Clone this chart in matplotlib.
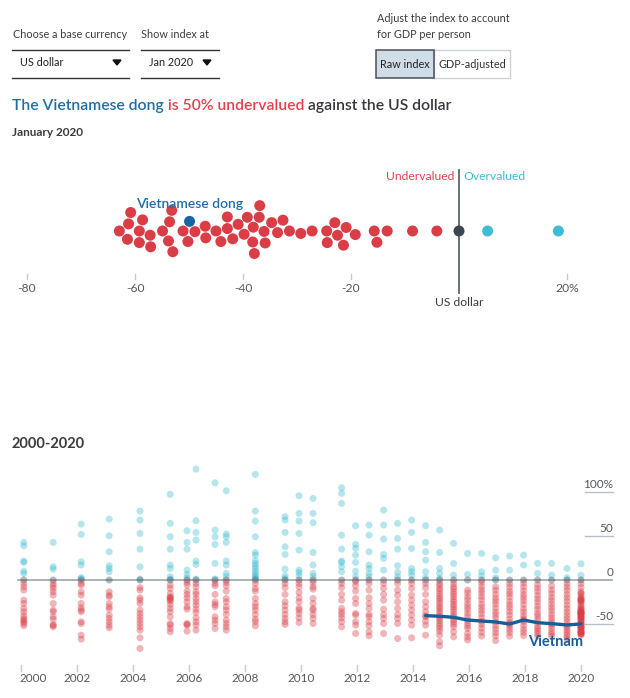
import numpy as np
import matplotlib
matplotlib.use("Agg")
import matplotlib.pyplot as plt
from matplotlib.patches import Rectangle, Polygon

plt.rcParams['font.family'] = ['Lato', 'DejaVu Sans']

# ---- data: Jan 2020 snapshot (% vs US dollar) ----
jan2020 = [-62.9, -60.8, -61.2, -61.4, -59.2, -59.2, -58.6, -57.1, -57.2, -54.9,
           -53.8, -53.2, -53.0, -53.6, -51.1, -48.9, -50.2, -47.0, -46.9, -45.0,
           -44.1, -42.9, -42.9, -41.9, -40.9, -39.8, -39.2, -37.9, -36.9, -38.1,
           -35.9, -37.0, -38.2, -36.1, -34.7, -33.6, -32.6, -31.4, -29.3, -27.2,
           -24.4, -24.5, -22.5, -21.4, -20.9, -23.0, -19.2, -15.7, -15.2, -13.3,
           -8.6, -4.1, 5.3, 18.4]
vietnam_2020 = -49.9
top_ticks = [-80, -60, -40, -20, 20]
top_tick_labels = ['-80', '-60', '-40', '-20', '20%']

# ---- data: 2000-2020 history, one list per survey ----
c2000 = [42.7, 38.9, 21.5, 20, 10.1, 7.5, 0, -3.9, -7.7, -11.5, -22.9, -26.7, -32.3, -36.1,
         -40.6, -43.7, -45.6, -47.5, -49.4, -52]
c2001 = [42.7, 15, 12.4, 0, -3.9, -6.6, -9.6, -13.4, -17.2, -26.7, -34.2, -36.1, -41.8, -44.5,
         -51.3, -51, -53.2]
c2002 = [63.5, 51.8, 20.7, 17, 2.5, 1.8, 0, -3.9, -5.8, -13.4, -17.2, -26.7, -31.6, -34.2,
         -36.1, -47.5, -49.4, -62.7, -67.2]
c2003 = [69.2, 50.3, 32.1, 16.2, 13.1, 9.4, 0, -13.4, -17.2, -19.1, -26.7, -30.4, -33.1,
         -39.9, -43.7, -47.5, -51.3, -54.3]
c2004 = [78.3, 68.1, 52.9, 35.1, 15, 1, 0, -8.7, -11.5, -20.2, -22.9, -26.7, -34.2, -38,
         -41.8, -45.6, -49.4, -53.2, -57, -65.7, -77.8]
c2005 = [97.3, 64.3, 49.1, 35.1, 17, 13.1, 3.8, 1.1, 0, -5.8, -9.6, -15.3, -19.1, -20, -21,
         -22.5, -24, -27.8, -32.3, -36.1, -41.8, -49.4, -51.3, -55.1, -58.9]
c2006a = [56, 42.7, 35.1, 11.2, 6.3, 2.5, 0, -2.8, -5.8, -12.6, -16.4, -20.2, -24.8, -30.4,
          -33.1, -49.4, -50.5, -51.3, -58.1]
c2006b = [126, 67.3, 54.1, 45.4, 21.5, 17.7, 1.1, 0, -3.9, -7.7, -13.4, -16.4, -21, -24.8,
          -28.6, -33.1, -36.9, -43, -47.5, -51.3, -57]
c2007a = [110.5, 56.7, 49.1, 40.4, 18.8, 1.1, 0, -3.9, -6.6, -16.4, -24.8, -27.8, -30.4,
          -41.8, -45.6, -49.4, -55.1]
c2007b = [101.4, 52.2, 49.1, 42.7, 21.5, 17, 7.5, 3.8, 0, -2.8, -6.6, -12.6, -21, -24.8,
          -30.4, -34.2, -39.2, -45.6, -49.4, -53.2, -57]
c2008 = [120, 78.3, 67, 49.1, 31.3, 28.3, 22, 18.8, 16, 13.1, 10, 7.5, 5, 3, 1.8, 0, -3.9,
         -9.6, -12.6, -21, -26.7, -30.4, -34.2, -39.2, -44.5, -47.5, -52]
c2009 = [71.9, 68.1, 54.1, 37.8, 29, 12.4, 4.8, 1.8, 0, -3.9, -8.7, -16.4, -24.8, -29.3,
         -34.2, -39.2, -43.7, -47.5, -50.5]
c2010a = [95.8, 75.7, 67, 52.9, 34, 11.2, 8.6, 4.8, 0, -3.9, -7.7, -14.1, -20.2, -24.8,
          -31.6, -34.2, -38, -43, -48.3]
c2010b = [92.7, 75.7, 65.1, 31.3, 17, 7.5, 3.8, 0, -2.8, -7.7, -10.4, -21, -26.7, -32.3,
          -34.2, -39.2, -43.7, -49.4]
c2011 = [104.9, 98.4, 87, 51, 35.1, 21.5, 20, 15, 9.4, 0, -3.9, -8.7, -16.4, -22.9, -32.3,
         -36.1, -39.2, -43, -47.5, -53.2]
c2012a = [61.7, 40.4, 35.9, 28.3, 20, 10.1, 3.8, 0, -1.9, -6.6, -12.6, -21, -26.7, -38,
          -39.9, -47.5, -51.3, -60.8]
c2012b = [62.4, 51, 32.1, 17, 13.1, 7.5, 3.8, 0, -3.9, -11.5, -20.2, -26.7, -32.3, -39.2,
          -41.8, -47.5, -52, -58.9, -63.4]
c2013a = [79.5, 62.4, 46.5, 29, 24.5, 11.2, 0, -3.9, -9.6, -16.4, -22.9, -33.1, -39.2,
          -43.7, -49.4, -60.8]
c2013b = [64.3, 47.2, 35.1, 16.2, 8.6, 3.8, 0, -3.9, -11.5, -17.2, -24.8, -32.3, -39.2,
          -43.7, -49.4, -66.5]
c2014a = [68.1, 54.1, 35.9, 13.1, 9.4, 5.6, 0, -3.9, -9.6, -17.2, -22.9, -28.6, -34.2,
          -39.9, -45.6, -51.3, -65.7]
c2014b = [61.7, 42.7, 32.1, 22.6, 9.4, 2.5, 0, -3.9, -8.7, -16.4, -24.8, -30.4, -36.1,
          -40.5, -41.8, -46.7, -51.3, -62.7]
c2015a = [56.7, 31.3, 13.1, 7.5, 1.8, 0, -3.9, -6.2, -9.6, -12.1, -15.3, -18.4, -21, -23.7,
          -26.7, -29.8, -32.3, -35.2, -38, -41.2, -43.7, -46.3, -49.4, -52.1, -55.1, -58.3,
          -62.7, -70.2, -74.8]
c2015b = [41.6, 18.8, 5.6, 0, -3.9, -7.7, -10.2, -13.4, -16.1, -19.1, -22.3, -24.8, -27.9,
          -30.4, -33.2, -36.1, -39.4, -41.8, -45.1, -47.5, -50.3, -53.2, -58.9, -64.6]
c2016a = [30.2, 6.3, 0, -11.5, -14.8, -19.2, -22.6, -26.9, -30.4, -33.7, -37.8, -41.5,
          -45.6, -48.9, -52.3, -55.1, -60.8, -64.7, -68.2]
c2016b = [30.2, 9.4, 4.8, 0, -2.9, -7.3, -11.2, -14.6, -18.8, -22.5, -27.3, -30.9, -34.6,
          -38.4, -42.7, -46.9, -50.6, -54.8, -59.3, -63.8]
c2017a = [25.3, 11.2, 2.5, 0, -7.8, -11.6, -16.2, -20.4, -23.8, -27.5, -31.9, -36.2, -39.6,
          -43.4, -47.7, -51.9, -55.6, -59.8, -63.5, -68.9]
c2017b = [27.2, 11.2, 0, -4.2, -8.1, -12.5, -15.8, -19.6, -24.3, -28.1, -31.6, -35.8,
          -39.7, -44.2, -48.3, -50.0, -52.6, -56.2, -59.7, -63.9]
c2018a = [28.3, 17, 0, -3.6, -7.9, -12.2, -16.4, -19.8, -23.5, -27.8, -32.4, -36.1, -40.3,
          -43.9, -45.5, -47.6, -51.8, -55.9, -59.4, -63.2]
c2018b = [18.8, 7.5, 0, -5.3, -9.2, -13.1, -17.5, -21.4, -25.2, -29.6, -33.3, -37.7, -40.8,
          -44.6, -48.5, -52.7, -55.3, -57.9, -60.6, -63.8]
c2019a = [18.8, 5.6, 0, -6.7, -11.4, -15.2, -19.6, -23.3, -27.4, -31.2, -34.9, -39.1,
          -42.8, -46.5, -49.6, -51.3, -54.7, -58.6, -61.2, -63.9]
c2019b = [13.1, 2.5, 0, -4.3, -8.1, -11.9, -16.3, -20.2, -24.1, -28.5, -32.4, -36.3, -40.1,
          -43.8, -47.2, -51.1, -53.6, -56.4, -59.2, -62.1, -64.8, -67.3]
c2020 = jan2020 + [vietnam_2020, 0]

survey_dates = [2000.1, 2001.15, 2002.15, 2003.15, 2004.25, 2005.33, 2005.93, 2006.25,
                2006.93, 2007.33, 2008.37, 2009.43, 2009.93, 2010.43, 2011.45, 2011.95,
                2012.43, 2012.95, 2013.45, 2013.95, 2014.45, 2014.95, 2015.45, 2015.95,
                2016.45, 2016.95, 2017.45, 2017.95, 2018.45, 2018.95, 2019.5, 2020.0]
surveys = [c2000, c2001, c2002, c2003, c2004, c2005, c2006a, c2006b, c2007a, c2007b,
           c2008, c2009, c2010a, c2010b, c2011, c2012a, c2012b, c2013a, c2013b, c2014a,
           c2014b, c2015a, c2015b, c2016a, c2016b, c2017a, c2017b, c2018a, c2018b,
           c2019a, c2019b, c2020]

vn_dates = [2014.45, 2014.95, 2015.45, 2015.95, 2016.45, 2016.95, 2017.45, 2017.95,
            2018.45, 2018.95, 2019.5, 2020.0]
vn_values = [-40.5, -41.2, -42.4, -45.5, -46.6, -47.7, -50.0, -45.5, -48.5, -49.6, -51.1, -49.9]
year_ticks = list(range(2000, 2021, 2))

RED = '#db3d47'
BLUE = '#3ebcd2'
NAVY = '#1a64a0'
SLATE = '#3b4650'
TEXT = '#3a3d40'
UI_FS = 7.8


def colour_of(v):
    if v > 0:
        return BLUE
    if v < 0:
        return RED
    return SLATE


def swarm(xs, d):
    # simple beeswarm: put each dot as close to the centre line as it fits
    ys = np.zeros(len(xs))
    placed = []
    for i in np.argsort(xs):
        x = xs[i]
        near = [(px, py) for px, py in placed if abs(px - x) < d]
        cands = [0.0]
        for px, py in near:
            dy = np.sqrt(d * d - (px - x) ** 2)
            cands += [py + dy, py - dy]
        cands.sort(key=abs)
        for c in cands:
            if all((px - x) ** 2 + (py - c) ** 2 >= d * d - 1e-6 for px, py in near):
                ys[i] = c
                break
        placed.append((x, ys[i]))
    return ys


W, H = 630, 698
fig = plt.figure(figsize=(W / 100, H / 100), dpi=100)
fig.patch.set_facecolor('white')

# overlay in pixel units for the controls and headings
ui = fig.add_axes([0, 0, 1, 1])
ui.set_xlim(0, W)
ui.set_ylim(H, 0)
ui.axis('off')

ui.text(13, 34, 'Choose a base currency', fontsize=UI_FS, color=TEXT, va='center')
ui.text(141, 34, 'Show index at', fontsize=UI_FS, color=TEXT, va='center')
for x0, x1, label, tri in [(12, 129, 'US dollar', 117), (141, 219, 'Jan 2020', 207)]:
    ui.plot([x0, x1], [50, 50], color='#333333', lw=1)
    ui.plot([x0, x1], [78, 78], color='#333333', lw=1)
    ui.text(x0 + 8, 63, label, fontsize=UI_FS, color='#222222', va='center')
    ui.add_patch(Polygon([[tri - 4, 60], [tri + 4, 60], [tri, 65]], closed=True,
                         color='#111111'))

ui.text(377, 18, 'Adjust the index to account', fontsize=UI_FS, color=TEXT, va='center')
ui.text(377, 34, 'for GDP per person', fontsize=UI_FS, color=TEXT, va='center')
ui.add_patch(Rectangle((434, 50), 76, 28, facecolor='white', edgecolor='#c9d2d8', lw=1))
ui.add_patch(Rectangle((376, 50), 58, 28, facecolor='#cfdde8', edgecolor='#4a5056', lw=1.1))
ui.text(405, 64, 'Raw index', fontsize=UI_FS, color='#222222', ha='center', va='center')
ui.text(472, 64, 'GDP-adjusted', fontsize=UI_FS, color='#333333', ha='center', va='center')

# multi-coloured headline
renderer = fig.canvas.get_renderer()
x = 12
for part, col in [('The Vietnamese dong', '#1f6ea6'), (' is 50% undervalued', '#e5414d'),
                  (' against the US dollar', '#35393d')]:
    t = ui.text(x, 106, part, fontsize=11.3, color=col, weight='semibold', va='center')
    bb = t.get_window_extent(renderer)
    x = ui.transData.inverted().transform((bb.x1, bb.y0))[0]
ui.text(12, 133, 'January 2020', fontsize=8.5, weight='bold', color=TEXT, va='center')
ui.text(12, 444, '2000-2020', fontsize=10.5, weight='bold', color=TEXT, va='center')

# ---- top: beeswarm for Jan 2020 ----
PX = 5.4          # pixels per percentage point
CY = 231          # pixel row of swarm centre
top = fig.add_axes([0, (H - 310) / H, 1, 150 / H])
top.set_xlim(-459 / PX, (W - 459) / PX)
top.set_ylim(310 - CY, 160 - CY)
top.axis('off')

vals = np.array(jan2020 + [vietnam_2020, 0.0])
cols = [colour_of(v) for v in jan2020] + [NAVY, SLATE]
offs = swarm(vals * PX, 11.6)
top.scatter(vals, offs, s=(11 * 0.72) ** 2, c=cols, linewidths=0, zorder=3)

top.plot([0, 0], [170 - CY, 293 - CY], color='#59646d', lw=1.3, zorder=2)
top.text(-0.8, 176 - CY, 'Undervalued', color='#e5414d', fontsize=8.7, ha='right', va='center')
top.text(0.9, 176 - CY, 'Overvalued', color='#3ebcd2', fontsize=8.7, ha='left', va='center')
top.text(0, 303 - CY, 'US dollar', color=TEXT, fontsize=8.7, ha='center', va='center')
top.text(vietnam_2020, 204 - CY, 'Vietnamese dong', color='#1f6ea6', fontsize=10,
         weight='semibold', ha='center', va='center')
for v, lab in zip(top_ticks, top_tick_labels):
    top.plot([v, v], [274 - CY, 279 - CY], color='#c5ccd1', lw=1)
    top.text(v, 288 - CY, lab, color='#555a5e', fontsize=8.7, ha='center', va='center')

# ---- bottom: history strip plot ----
YPX = 0.88        # pixels per percentage point
bot = fig.add_axes([0, 0, 1, (H - 455) / H])
bot.set_xlim(2000 - 21 / 28, 2000 + (W - 21) / 28)
bot.set_ylim((580 - H) / YPX, (580 - 455) / YPX)
bot.axis('off')

bot.plot([1999.9, 2021.1], [0, 0], color='#a3adb4', lw=1.3, zorder=1)
for d, col in zip(survey_dates, surveys):
    bot.scatter([d] * len(col), col, s=(7 * 0.72) ** 2, c=[colour_of(v) for v in col],
                alpha=0.38, linewidths=0, zorder=2)
bot.plot(vn_dates, vn_values, color='#15609b', lw=2.4, zorder=4, solid_capstyle='round')
bot.text(2019.1, (580 - 642) / YPX, 'Vietnam', color='#15609b', fontsize=10.5,
         weight='bold', ha='center', va='center')

for v, lab in [(100, '100%'), (50, '50'), (0, '0'), (-50, '-50')]:
    if v != 0:
        bot.plot([2020.15, 2021.15], [v, v], color='#b8c0c6', lw=1, zorder=1)
    bot.text(2021.15, v + 8.5, lab, color='#555a5e', fontsize=8.5, ha='right', va='center')

for yr in year_ticks:
    bot.plot([yr, yr], [(580 - 665) / YPX, (580 - 671) / YPX], color='#c5ccd1', lw=1)
    ha = 'left' if yr == 2000 else 'center'
    xx = yr - 0.05 if yr == 2000 else yr
    bot.text(xx, (580 - 679) / YPX, str(yr), color='#555a5e', fontsize=8.5, ha=ha,
             va='center')

fig.savefig('out.png', dpi=100, facecolor='white')
